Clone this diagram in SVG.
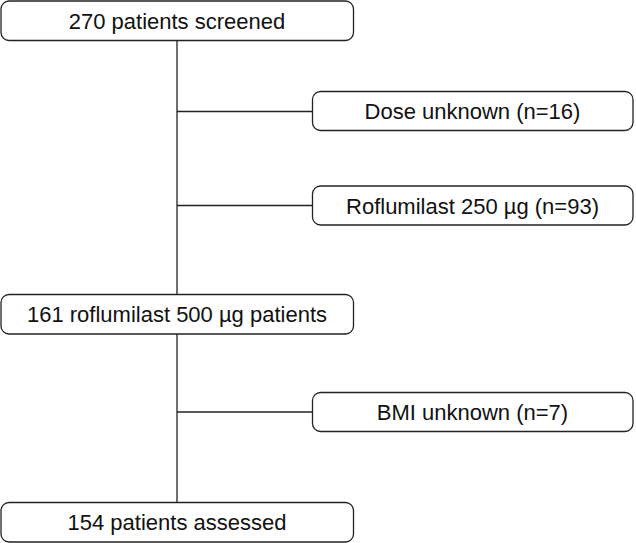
<svg xmlns="http://www.w3.org/2000/svg" width="636" height="543" viewBox="0 0 636 543">
<style>
.box{fill:#fff;stroke:#222;stroke-width:1.3}
.t{font-family:"Liberation Sans",Arial,sans-serif;font-size:22px;fill:#111;text-anchor:middle}
.c{stroke:#222;stroke-width:1.3;fill:none}
</style>
<rect width="636" height="543" fill="#fff"/>
<g id="connectors">
<line class="c" x1="177" y1="40.5" x2="177" y2="294"/>
<line class="c" x1="177" y1="334" x2="177" y2="502.5"/>
<line class="c" x1="177" y1="111.5" x2="312" y2="111.5"/>
<line class="c" x1="177" y1="205.5" x2="312" y2="205.5"/>
<line class="c" x1="177" y1="412" x2="312" y2="412"/>
</g>
<g id="screened"><rect class="box" x="1" y="1" width="352.5" height="39.5" rx="8"/><text class="t" x="177" y="28.5">270 patients screened</text></g>
<g id="dose"><rect class="box" x="312.5" y="91.5" width="320.5" height="39" rx="8"/><text class="t" x="472.5" y="119">Dose unknown (n=16)</text></g>
<g id="r250"><rect class="box" x="312.5" y="186" width="320.5" height="39" rx="8"/><text class="t" x="472.5" y="213.5">Roflumilast 250 µg (n=93)</text></g>
<g id="r500"><rect class="box" x="1" y="294.5" width="352.5" height="39.5" rx="8"/><text class="t" x="177" y="322">161 roflumilast 500 µg patients</text></g>
<g id="bmi"><rect class="box" x="312.5" y="392.5" width="320.5" height="39" rx="8"/><text class="t" x="472.5" y="420">BMI unknown (n=7)</text></g>
<g id="assessed"><rect class="box" x="1" y="502.5" width="352.5" height="39.5" rx="8"/><text class="t" x="177" y="530">154 patients assessed</text></g>
</svg>
